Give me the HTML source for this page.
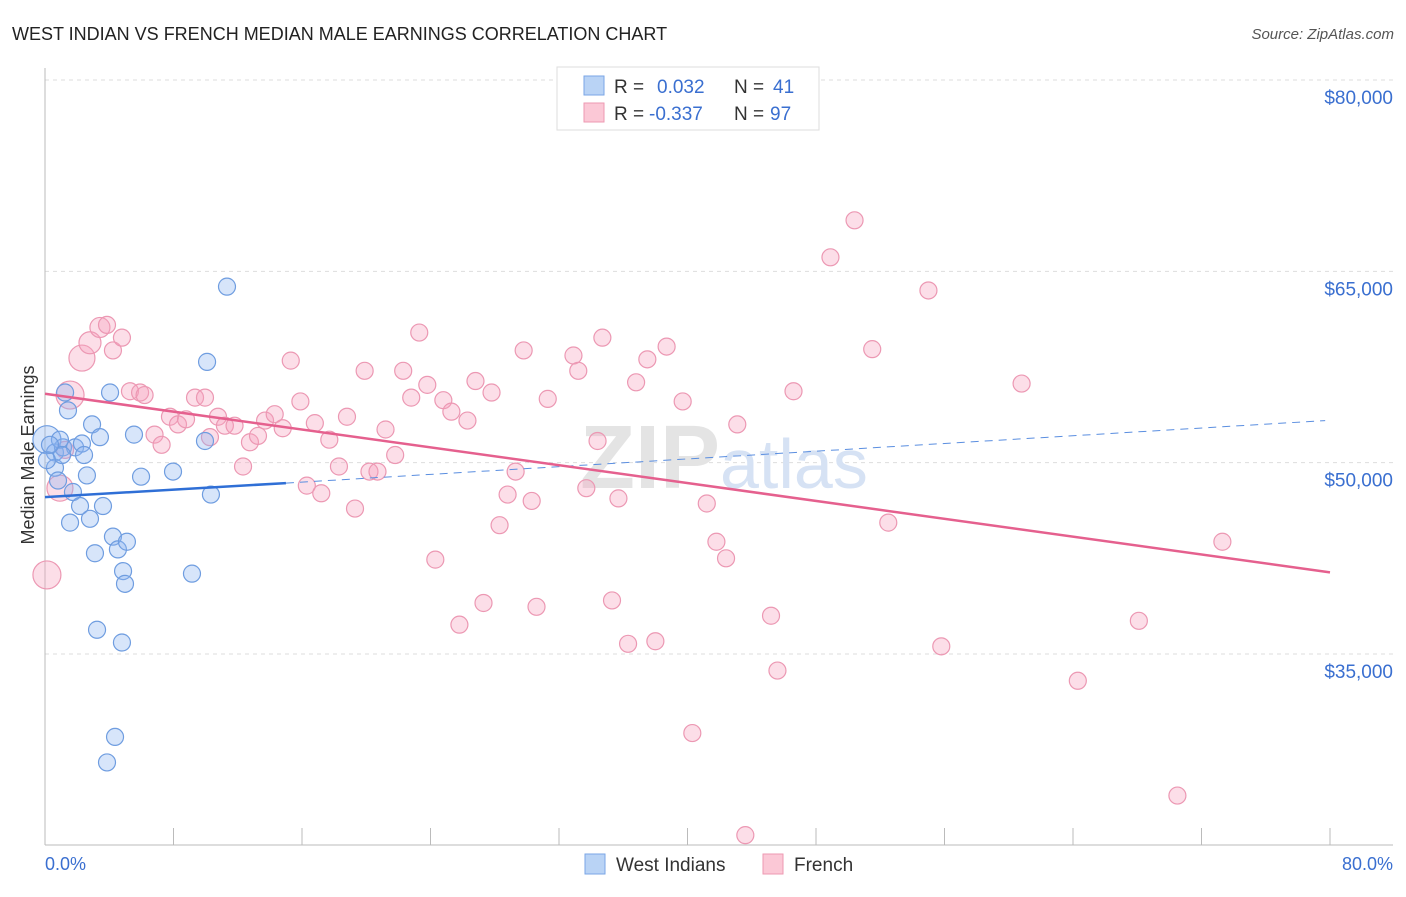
<!DOCTYPE html>
<html><head><meta charset="utf-8"><style>
body{margin:0;background:#fff;font-family:"Liberation Sans",sans-serif}
svg text{font-family:"Liberation Sans",sans-serif}
</style></head><body>
<svg width="1406" height="892" xmlns="http://www.w3.org/2000/svg">
<text x="12" y="40" font-size="18" fill="#222">WEST INDIAN VS FRENCH MEDIAN MALE EARNINGS CORRELATION CHART</text>
<text x="1394" y="39" font-size="15" fill="#555" text-anchor="end" font-style="italic">Source: ZipAtlas.com</text>
<g id="grid"></g>
<text x="720" y="488" font-size="90" fill="#e4e4e4" text-anchor="end" font-family="Liberation Serif" font-weight="bold">ZIP</text>
<text x="720" y="488" font-size="70" fill="#d6e2f4">atlas</text>
<line x1="45" y1="68" x2="45" y2="845" stroke="#bbb"/>
<line x1="45" y1="845" x2="1393" y2="845" stroke="#bbb"/>
<g id="xticks"></g>
<g id="ylabels"></g>
<text x="45" y="870" font-size="18" fill="#3a6fd0">0.0%</text>
<text x="1393" y="870" font-size="18" fill="#3a6fd0" text-anchor="end">80.0%</text>
<text transform="translate(34,455) rotate(-90)" font-size="18" fill="#333" text-anchor="middle">Median Male Earnings</text>
<g id="pts"></g>
<g id="trends"></g>
<g>
<rect x="557" y="67" width="262" height="63" fill="#fff" stroke="#ddd"/>
<rect x="584" y="76" width="20" height="19" fill="#b9d3f5" stroke="#7aa6e6"/>
<rect x="584" y="103" width="20" height="19" fill="#fbc8d6" stroke="#ee99b2"/>
<text x="614" y="93" font-size="19" fill="#333">R = </text><text x="657" y="93" font-size="19" fill="#3a6fd0">0.032</text>
<text x="734" y="93" font-size="19" fill="#333">N = </text><text x="773" y="93" font-size="19" fill="#3a6fd0">41</text>
<text x="614" y="120" font-size="19" fill="#333">R = </text><text x="649" y="120" font-size="19" fill="#3a6fd0">-0.337</text>
<text x="734" y="120" font-size="19" fill="#333">N = </text><text x="770" y="120" font-size="19" fill="#3a6fd0">97</text>
</g>
<g>
<rect x="585" y="854" width="20" height="20" fill="#b9d3f5" stroke="#7aa6e6"/>
<text x="616" y="871" font-size="19" fill="#333">West Indians</text>
<rect x="763" y="854" width="20" height="20" fill="#fbc8d6" stroke="#ee99b2"/>
<text x="794" y="871" font-size="19" fill="#333">French</text>
</g>
</svg>
<script>
const yTicks=[35000,50000,65000,80000];
const yTickLabels=["$35,000","$50,000","$65,000","$80,000"];
const xTicks=[0,8,16,24,32,40,48,56,64,72,80];
const blueX=[0.12,0.62,1.12,1.87,2.3,0.93,0.62,0.81,1.43,1.25,2.93,3.42,4.05,2.43,2.61,1.74,2.18,2.8,3.61,1.56,5.54,4.23,4.54,5.1,3.11,4.86,4.98,7.97,5.98,9.96,10.33,11.33,10.09,9.15,3.24,4.79,4.36,3.86,1.06,0.12,0.31];
const blueY=[51.8,50.8,51.2,51.2,51.5,51.8,49.6,48.6,54.1,55.5,53.0,52.0,55.5,50.6,49.0,47.7,46.6,45.6,46.6,45.3,52.2,44.2,43.2,43.8,42.9,41.5,40.5,49.3,48.9,51.7,47.5,63.8,57.9,41.3,36.9,35.9,28.5,26.5,50.6,50.2,51.4];
const pinkX=[0.12,0.93,1.56,2.3,2.8,3.42,3.86,4.23,4.79,1.25,5.29,5.92,6.2,6.82,7.26,7.78,8.28,8.78,9.34,9.96,10.27,10.77,11.2,11.8,12.33,12.76,13.26,13.7,14.3,14.8,15.3,15.9,16.3,16.8,17.2,17.7,18.3,18.8,19.3,19.9,20.2,20.7,21.2,21.8,22.3,22.8,23.3,23.8,24.3,24.8,25.3,25.8,26.3,26.8,27.3,27.8,28.3,28.8,29.3,29.8,30.3,30.6,31.3,32.9,33.2,33.7,34.4,34.7,35.3,35.7,36.3,36.8,37.5,38.0,38.7,39.7,40.3,41.2,41.8,42.4,43.1,43.6,45.2,45.6,46.6,48.9,50.4,51.5,52.5,55.0,55.8,60.8,64.3,68.1,70.5,73.3,38.3];
const pinkY=[41.2,48.0,55.3,58.2,59.4,60.6,60.8,58.8,59.8,51.0,55.6,55.5,55.3,52.2,51.4,53.6,53.0,53.4,55.1,55.1,52.0,53.6,52.9,52.9,49.7,51.6,52.1,53.3,53.8,52.7,58.0,54.8,48.2,53.1,47.6,51.8,49.7,53.6,46.4,57.2,49.3,49.3,52.6,50.6,57.2,55.1,60.2,56.1,42.4,54.9,54.0,37.3,53.3,56.4,39.0,55.5,45.1,47.5,49.3,58.8,47.0,38.7,55.0,58.4,57.2,48.0,51.7,59.8,39.2,47.2,35.8,56.3,58.1,36.0,59.1,54.8,28.8,46.8,43.8,42.5,53.0,20.8,38.0,33.7,55.6,66.1,69.0,58.9,45.3,63.5,35.6,56.2,32.9,37.6,23.9,43.8,78.7];
const pinkSize=[14,13,14,13,11,10];
const blueTrend=[[0,47.3],[15,48.4],[79.7,53.3]];
const pinkTrend=[[0,55.4],[80,41.4]];
const NS="http://www.w3.org/2000/svg";
const X=v=>45+v/80*1285;
const Y=v=>80+(80000-v)/45000*574;
function mk(t,a,p){const e=document.createElementNS(NS,t);for(const k in a)e.setAttribute(k,a[k]);p.appendChild(e);return e;}
const grid=document.getElementById('grid'),yl=document.getElementById('ylabels'),xt=document.getElementById('xticks');
yTicks.forEach((t,i)=>{
 const l=mk('line',{x1:45,x2:1393,y1:Y(t),y2:Y(t),stroke:'#ddd','stroke-dasharray':'4,4'},grid);
 
 
 const tx=mk('text',{x:1393,y:Y(t)+24,'font-size':19,fill:'#3a6fd0','text-anchor':'end'},yl);
 tx.textContent=yTickLabels[i];
 
 
});
xTicks.forEach(t=>{
 const l=mk('line',{x1:X(t),x2:X(t),y1:828,y2:845,stroke:'#bbb'},xt);
 
 
});
const pts=document.getElementById('pts');
pinkX.forEach((x,i)=>{
 const c=mk('circle',{cx:X(x),cy:Y(pinkY[i]*1000),r:pinkSize[i]||8.5,fill:'rgba(245,160,188,0.35)',stroke:'#ec98b3','stroke-width':1.2},pts);
 
 
});
blueX.forEach((x,i)=>{
 const c=mk('circle',{cx:X(x),cy:Y(blueY[i]*1000),r:i===0?14:8.5,fill:'rgba(140,180,240,0.35)',stroke:'#6f9de0','stroke-width':1.2},pts);
 
 
});
const tr=document.getElementById('trends');
let l=mk('line',{x1:X(blueTrend[0][0]),y1:Y(blueTrend[0][1]*1000),x2:X(blueTrend[1][0]),y2:Y(blueTrend[1][1]*1000),stroke:'#2f6fd6','stroke-width':2.5},tr);


l=mk('line',{x1:X(blueTrend[1][0]),y1:Y(blueTrend[1][1]*1000),x2:X(blueTrend[2][0]),y2:Y(blueTrend[2][1]*1000),stroke:'#5a8ee0','stroke-width':1,'stroke-dasharray':'8,6'},tr);


l=mk('line',{x1:X(pinkTrend[0][0]),y1:Y(pinkTrend[0][1]*1000),x2:X(pinkTrend[1][0]),y2:Y(pinkTrend[1][1]*1000),stroke:'#e5608e','stroke-width':2.5},tr);


</script>
</body></html>
